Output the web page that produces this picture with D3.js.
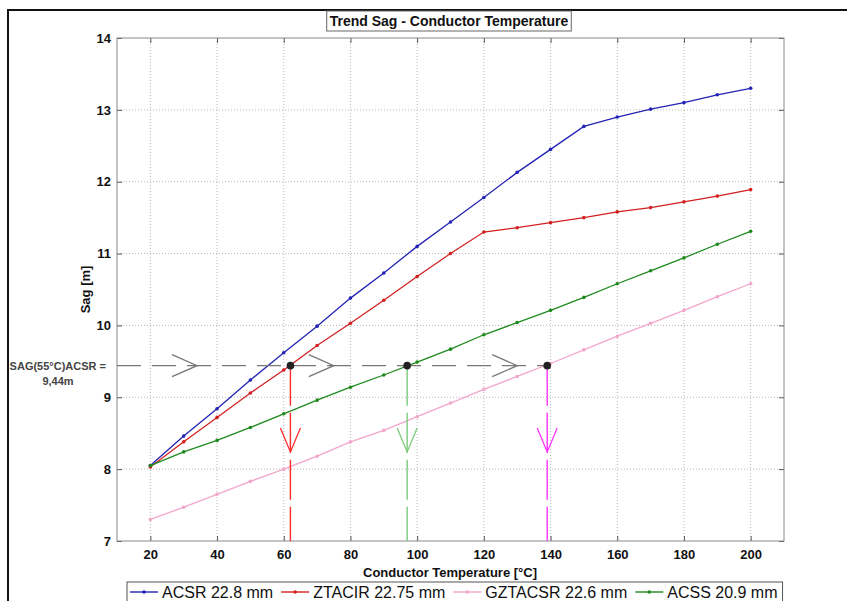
<!DOCTYPE html>
<html>
<head>
<meta charset="utf-8">
<script src="https://cdn.jsdelivr.net/npm/d3@7"></script>
<style>
  body { margin: 0; background: #fff; }
  #chart { width: 847px; height: 601px; }
  text { font-family: Arial, "Liberation Sans", sans-serif; }
</style>
</head>
<body>
<div id="chart"></div>
<script>
// values
const temps = [20, 30, 40, 50, 60, 70, 80, 90, 100, 110, 120, 130, 140, 150, 160, 170, 180, 190, 200];
const acsr = [8.05, 8.46, 8.84, 9.24, 9.62, 9.99, 10.38, 10.73, 11.10, 11.44, 11.78, 12.13, 12.45, 12.77, 12.90, 13.01, 13.10, 13.21, 13.30];
const ztacir = [8.03, 8.38, 8.72, 9.06, 9.38, 9.72, 10.03, 10.35, 10.68, 11.00, 11.30, 11.36, 11.43, 11.50, 11.58, 11.64, 11.72, 11.80, 11.89];
const gztacsr = [7.30, 7.47, 7.65, 7.83, 8.00, 8.18, 8.38, 8.54, 8.73, 8.92, 9.11, 9.29, 9.47, 9.66, 9.85, 10.03, 10.21, 10.40, 10.58];
const acss = [8.05, 8.24, 8.40, 8.58, 8.77, 8.96, 9.14, 9.31, 9.49, 9.67, 9.87, 10.04, 10.21, 10.39, 10.58, 10.76, 10.94, 11.13, 11.31];

const seriesNames = ['ACSR 22.8 mm', 'ZTACIR 22.75 mm', 'GZTACSR 22.6 mm', 'ACSS 20.9 mm'];
const seriesColors = ['#2323b4', '#d42020', '#f2a6cc', '#1e8a1e'];

const xTicks = [20, 40, 60, 80, 100, 120, 140, 160, 180, 200];
const yTicks = [7, 8, 9, 10, 11, 12, 13, 14];

// the 9,44 m construction
const sagLevel = 9.44;
const crossTemps = [62, 97, 139];
const crossColors = ['#ff2b2b', '#7ccc7c', '#ff33ff'];
const rightArrowTemps = [34, 75, 130];
const downArrowSag = 8.24;

const W = 847, H = 601;
const mLeft = 117, mRight = 784, mTop = 38, mBottom = 541;

let svg = d3.select('#chart')
    .append('svg')
        .attr('width', W)
        .attr('height', H);

const x = d3.scaleLinear().domain([10, 210]).range([mLeft, mRight]);
const y = d3.scaleLinear().domain([7, 14]).range([mBottom, mTop]);

// outer frame (top and left only visible)
svg.append('path')
    .attr('d', `M8,${H} L8,10 L${W},10`)
    .attr('fill', 'none')
    .attr('stroke', '#111')
    .attr('stroke-width', 2);

// grid
svg.selectAll('.gx')
    .data(xTicks).enter()
    .append('line')
    .attr('x1', d => x(d)).attr('x2', d => x(d))
    .attr('y1', mTop).attr('y2', mBottom)
    .attr('stroke', '#b8b8b8')
    .attr('stroke-dasharray', '1,2');
svg.selectAll('.gy')
    .data(yTicks.slice(1, -1)).enter()
    .append('line')
    .attr('x1', mLeft).attr('x2', mRight)
    .attr('y1', d => y(d)).attr('y2', d => y(d))
    .attr('stroke', '#b8b8b8')
    .attr('stroke-dasharray', '1,2');

// axes, ticks inward
const styleAxis = g => {
    g.select('.domain').remove();
    g.selectAll('.tick line').attr('stroke', '#555');
    g.selectAll('.tick text')
        .attr('fill', '#111')
        .style('font-size', '13px')
        .style('font-weight', 'bold')
        .style('font-family', 'Arial, "Liberation Sans", sans-serif');
};
svg.append('g')
    .attr('transform', `translate(0, ${mBottom})`)
    .call(d3.axisBottom(x).tickValues(xTicks).tickSize(-5).tickPadding(9))
    .call(styleAxis);
svg.append('g')
    .attr('transform', `translate(0, ${mTop})`)
    .call(d3.axisTop(x).tickValues(xTicks).tickSize(-5).tickFormat(''))
    .call(styleAxis);
svg.append('g')
    .attr('transform', `translate(${mLeft}, 0)`)
    .call(d3.axisLeft(y).tickValues(yTicks).tickSize(-5).tickPadding(6).tickFormat(d3.format('d')))
    .call(styleAxis);
svg.append('g')
    .attr('transform', `translate(${mRight}, 0)`)
    .call(d3.axisRight(y).tickValues(yTicks).tickSize(-5).tickFormat(''))
    .call(styleAxis);

svg.append('rect')
    .attr('x', mLeft).attr('y', mTop)
    .attr('width', mRight - mLeft).attr('height', mBottom - mTop)
    .attr('fill', 'none')
    .attr('stroke', '#8a8a8a')
    .attr('stroke-width', 1);

// series
const allSeries = [acsr, ztacir, gztacsr, acss];
const line = d3.line().x(d => x(d[0])).y(d => y(d[1]));

allSeries.forEach((vals, i) => {
    let pts = temps.map((t, k) => [t, vals[k]]);
    svg.append('path')
        .datum(pts)
        .attr('d', line)
        .attr('fill', 'none')
        .attr('stroke', seriesColors[i])
        .attr('stroke-width', 1.3);
    svg.selectAll('.dot' + i)
        .data(pts).enter()
        .append('circle')
        .attr('cx', d => x(d[0]))
        .attr('cy', d => y(d[1]))
        .attr('r', 1.8)
        .attr('fill', seriesColors[i]);
});

// horizontal dashed sag line
svg.append('line')
    .attr('x1', x(10)).attr('x2', x(d3.max(crossTemps)))
    .attr('y1', y(sagLevel)).attr('y2', y(sagLevel))
    .attr('stroke', '#777')
    .attr('stroke-width', 1.3)
    .attr('stroke-dasharray', '24,11');

// open chevrons pointing right
svg.selectAll('.rarrow')
    .data(rightArrowTemps).enter()
    .append('path')
    .attr('d', d => {
        let tx = x(d), ty = y(sagLevel);
        return `M${tx - 25},${ty - 11} L${tx},${ty} L${tx - 25},${ty + 11}`;
    })
    .attr('fill', 'none')
    .attr('stroke', '#777')
    .attr('stroke-width', 1.3);

// vertical dashed drops
crossTemps.forEach((t, i) => {
    svg.append('line')
        .attr('x1', x(t)).attr('x2', x(t))
        .attr('y1', y(sagLevel)).attr('y2', y(7))
        .attr('stroke', crossColors[i])
        .attr('stroke-width', 1.4)
        .attr('stroke-dasharray', '40,7');
    let tx = x(t), ty = y(downArrowSag);
    svg.append('path')
        .attr('d', `M${tx - 10},${ty - 24} L${tx},${ty} L${tx + 10},${ty - 24}`)
        .attr('fill', 'none')
        .attr('stroke', crossColors[i])
        .attr('stroke-width', 1.3);
});

svg.selectAll('.cross')
    .data(crossTemps).enter()
    .append('circle')
    .attr('cx', d => x(d))
    .attr('cy', y(sagLevel))
    .attr('r', 3.8)
    .attr('fill', '#222');

// sag annotation
svg.append('text')
    .attr('x', 106).attr('y', y(sagLevel) + 4)
    .attr('text-anchor', 'end')
    .attr('fill', '#444')
    .style('font-size', '11px')
    .style('font-weight', 'bold')
    .text('SAG(55°C)ACSR =');
svg.append('text')
    .attr('x', 58).attr('y', y(sagLevel) + 19)
    .attr('text-anchor', 'middle')
    .attr('fill', '#444')
    .style('font-size', '11px')
    .style('font-weight', 'bold')
    .text('9,44m');

// title
let title = svg.append('text')
    .attr('x', 449).attr('y', 26)
    .attr('text-anchor', 'middle')
    .attr('fill', '#111')
    .style('font-size', '14px')
    .style('font-weight', 'bold')
    .text('Trend Sag - Conductor Temperature');
let tw = title.node().getComputedTextLength();
svg.append('rect')
    .attr('x', 449 - tw / 2 - 3).attr('y', 11)
    .attr('width', tw + 6).attr('height', 20)
    .attr('fill', '#fff')
    .attr('stroke', '#666');
title.raise();

// axis labels
svg.append('text')
    .attr('x', 450).attr('y', 577)
    .attr('text-anchor', 'middle')
    .attr('fill', '#111')
    .style('font-size', '13px')
    .style('font-weight', 'bold')
    .text('Conductor Temperature [°C]');
svg.append('text')
    .attr('transform', `translate(90, ${(mTop + mBottom) / 2}) rotate(-90)`)
    .attr('text-anchor', 'middle')
    .attr('fill', '#111')
    .style('font-size', '13px')
    .style('font-weight', 'bold')
    .text('Sag [m]');

// legend
let legend = svg.append('g');
let legendBox = legend.append('rect')
    .attr('y', 582).attr('height', 26)
    .attr('fill', '#fff')
    .attr('stroke', '#555');
let lx = 130, textEnd = lx;
seriesNames.forEach((name, i) => {
    legend.append('line')
        .attr('x1', lx).attr('x2', lx + 28)
        .attr('y1', 592).attr('y2', 592)
        .attr('stroke', seriesColors[i])
        .attr('stroke-width', 1.4);
    legend.append('circle')
        .attr('cx', lx + 14).attr('cy', 592).attr('r', 1.8)
        .attr('fill', seriesColors[i]);
    let t = legend.append('text')
        .attr('x', lx + 32).attr('y', 598)
        .attr('fill', '#111')
        .style('font-size', '16px')
        .text(name);
    textEnd = lx + 32 + t.node().getComputedTextLength();
    lx = textEnd + 8;
});
legendBox.attr('x', 127).attr('width', textEnd + 5 - 127);
</script>
</body>
</html>
